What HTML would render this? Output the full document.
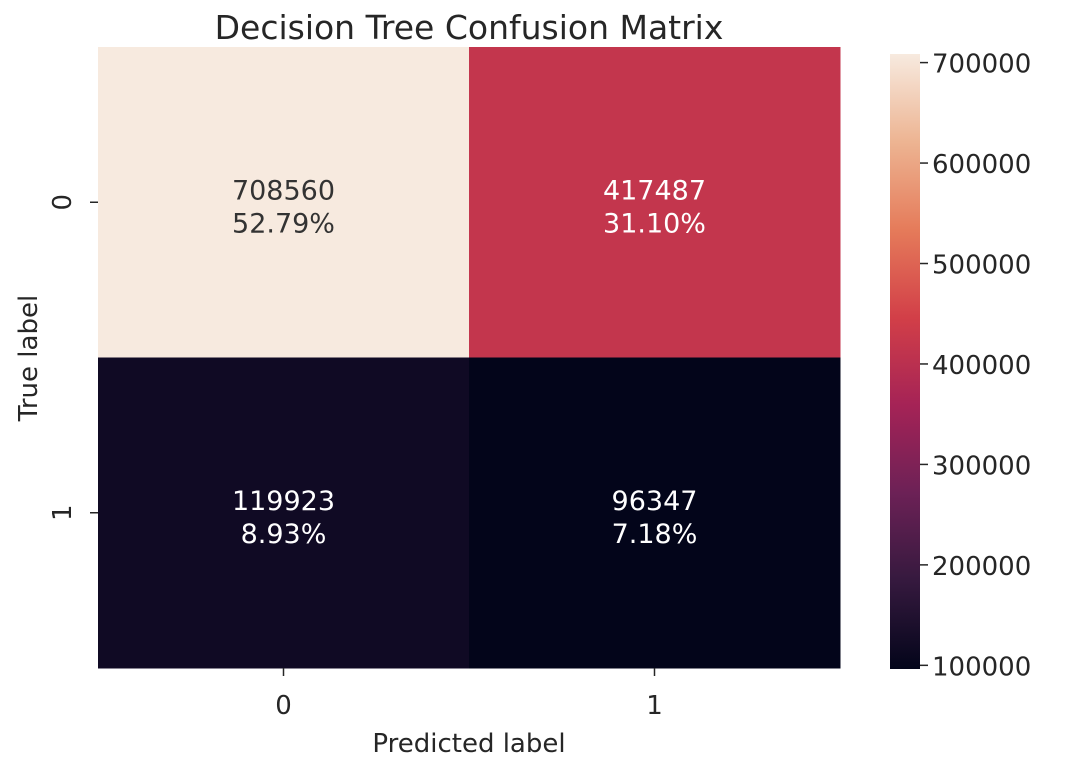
<!DOCTYPE html>
<html><head><meta charset="utf-8"><style>
body{margin:0;background:#fff;font-family:"DejaVu Sans","Liberation Sans",sans-serif;}
</style></head><body>
<svg id="chart" width="1080" height="768" xmlns="http://www.w3.org/2000/svg">
<defs><linearGradient id="rocket" x1="0" y1="1" x2="0" y2="0"></linearGradient></defs>
<text x="469" y="39" font-size="33" text-anchor="middle" fill="#262626">Decision Tree Confusion Matrix</text>
<g id="cells"></g>
<g id="axes"></g>
<g id="cbar"></g>
<text x="469" y="752" font-size="26" text-anchor="middle" fill="#262626">Predicted label</text>
<text transform="translate(37,358) rotate(-90)" font-size="26" text-anchor="middle" fill="#262626">True label</text>
</svg>
<script>
const rowLabels=["0","1"];
const colLabels=["0","1"];
const values=[[708560,417487],[119923,96347]];
const percents=["52.79%","31.10%","8.93%","7.18%"];
const cbarTicks=[100000,200000,300000,400000,500000,600000,700000];
const NS="http://www.w3.org/2000/svg";
const stops=[[0,"#03051a"],[0.143,"#35193e"],[0.286,"#6c2156"],[0.429,"#a52356"],[0.571,"#d23f48"],[0.714,"#e57b5a"],[0.857,"#edb492"],[1,"#f7eadf"]];
function hex(h){return [1,3,5].map(i=>parseInt(h.substr(i,2),16));}
function cmap(t){t=Math.max(0,Math.min(1,t));for(let i=1;i<stops.length;i++){if(t<=stops[i][0]){const a=stops[i-1],b=stops[i];const f=(t-a[0])/(b[0]-a[0]);const c1=hex(a[1]),c2=hex(b[1]);return "rgb("+c1.map((v,k)=>Math.round(v+(c2[k]-v)*f)).join(",")+")";}}return stops[stops.length-1][1];}
const flat=values.flat();const vmin=Math.min(...flat),vmax=Math.max(...flat);
const X0=98,X1=840,Y0=47,Y1=668;
const cw=(X1-X0)/colLabels.length,ch=(Y1-Y0)/rowLabels.length;
const xs=j=>X0+j*cw, ys=i=>Y0+i*ch;
function el(t,a,p){const e=document.createElementNS(NS,t);for(const k in a)e.setAttribute(k,a[k]);p.appendChild(e);return e;}
const cells=document.getElementById('cells');
values.forEach((row,i)=>row.forEach((v,j)=>{
 const t=(v-vmin)/(vmax-vmin);
 const r=el('rect',{x:xs(j),y:ys(i),width:cw+0.5,height:ch+0.5,fill:cmap(t)},cells);
 
 
 const col=t>0.6?"#333333":"#ffffff";
 const tx=el('text',{x:xs(j)+cw/2,y:ys(i)+ch/2-3,'font-size':27,'text-anchor':'middle',fill:col},cells);
 tx.textContent=v;
 
 
 const tp=el('text',{x:xs(j)+cw/2,y:ys(i)+ch/2+30,'font-size':27,'text-anchor':'middle',fill:col},cells);
 tp.textContent=percents[i*2+j];
 
 
}));
const axes=document.getElementById('axes');
colLabels.forEach((l,j)=>{const x=xs(j)+cw/2;
 el('line',{x1:x,x2:x,y1:Y1,y2:Y1+8,stroke:"#262626","stroke-width":1.5},axes);
 const t=el('text',{x:x,y:Y1+46,'font-size':26,'text-anchor':'middle',fill:'#262626'},axes);t.textContent=l;
 
 });
rowLabels.forEach((l,i)=>{const y=ys(i)+ch/2;
 el('line',{x1:X0-8,x2:X0,y1:y,y2:y,stroke:"#262626","stroke-width":1.5},axes);
 const t=el('text',{transform:`translate(${X0-27},${y}) rotate(-90)`,'font-size':26,'text-anchor':'middle',fill:'#262626'},axes);t.textContent=l;
 
 });
// colorbar
const CX=890,CW=30,CY0=54,CY1=669;
const cy=v=>CY1-(v-vmin)/(vmax-vmin)*(CY1-CY0);
const g=document.getElementById('rocket');
stops.forEach(s=>el('stop',{offset:s[0],'stop-color':s[1]},g));
const cb=document.getElementById('cbar');
const cr=el('rect',{x:CX,y:CY0,width:CW,height:CY1-CY0,fill:'url(#rocket)'},cb);


cbarTicks.forEach(v=>{const y=cy(v);
 el('line',{x1:CX+CW,x2:CX+CW+8,y1:y,y2:y,stroke:"#262626","stroke-width":1.5},cb);
 const t=el('text',{x:CX+CW+12,y:y+10,'font-size':26,fill:'#262626'},cb);t.textContent=v;
 
 });
</script>
</body></html>
